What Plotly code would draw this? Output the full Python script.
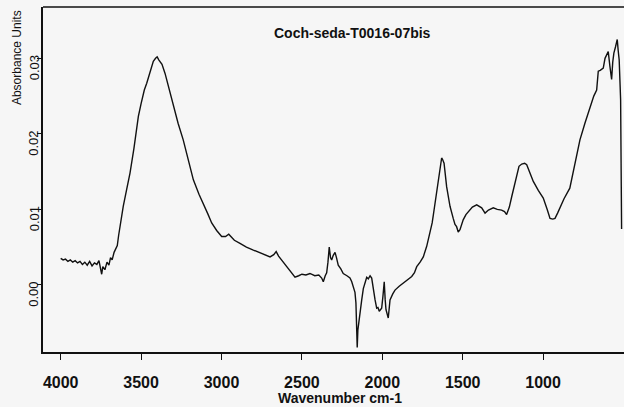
import plotly.graph_objects as go

wavenumber = [4000, 3985, 3970, 3955, 3940, 3925, 3910, 3895, 3880, 3865, 3850, 3835, 3820, 3805, 3790, 3775,
              3762, 3752, 3745, 3738, 3725, 3712, 3700, 3690, 3680, 3668, 3655, 3648, 3640, 3630, 3611, 3590,
              3569, 3545, 3530, 3517, 3500, 3480, 3465, 3445, 3424, 3410, 3400, 3390, 3370, 3351, 3325, 3300,
              3270, 3238, 3205, 3175, 3140, 3113, 3085, 3061, 3030, 2999, 2975, 2955, 2945, 2920, 2885, 2845,
              2802, 2760, 2720, 2698, 2675, 2660, 2645, 2620, 2595, 2565, 2543, 2520, 2500, 2475, 2450, 2420,
              2395, 2377, 2367, 2355, 2346, 2338, 2330, 2322, 2315, 2305, 2294, 2285, 2274, 2258, 2243, 2220,
              2201, 2190, 2180, 2170, 2164, 2159, 2156, 2152, 2143, 2128, 2118, 2108, 2097, 2087, 2076, 2066,
              2056, 2045, 2035, 2027, 2019, 2004, 1996, 1988, 1982, 1977, 1963, 1952, 1935, 1921, 1895, 1870,
              1845, 1817, 1800, 1786, 1765, 1745, 1724, 1714, 1704, 1690, 1683, 1662, 1641, 1631, 1625, 1616,
              1600, 1590, 1579, 1559, 1548, 1538, 1528, 1517, 1507, 1497, 1480, 1465, 1440, 1413, 1395, 1382,
              1361, 1340, 1310, 1285, 1258, 1240, 1227, 1210, 1195, 1176, 1164, 1150, 1133, 1115, 1102, 1085,
              1061, 1030, 999, 975, 957, 940, 926, 910, 895, 870, 834, 800, 771, 740, 709, 685,
              667, 660, 657, 645, 626, 615, 605, 595, 585, 574, 567, 560, 550, 539, 533, 527,
              518, 512]

absorbance = [0.0035, 0.0033, 0.0034, 0.0031, 0.0033, 0.0030, 0.0032, 0.0029, 0.0031, 0.0027, 0.0030, 0.0026,
              0.0031, 0.0025, 0.0029, 0.0027, 0.0032, 0.0020, 0.0014, 0.0024, 0.0020, 0.0030, 0.0026, 0.0036,
              0.0033, 0.0043, 0.0048, 0.0052, 0.0065, 0.0080, 0.0104, 0.0126, 0.0148, 0.0180, 0.0205, 0.0223,
              0.0240, 0.0258, 0.0267, 0.0283, 0.0296, 0.0300, 0.0302, 0.0298, 0.0292, 0.0280, 0.0258, 0.0236,
              0.0214, 0.0192, 0.0165, 0.0139, 0.0120, 0.0108, 0.0094, 0.0082, 0.0072, 0.0064, 0.0064, 0.0067,
              0.0065, 0.0059, 0.0055, 0.0050, 0.0046, 0.0042, 0.0039, 0.0037, 0.0040, 0.0044, 0.0038, 0.0031,
              0.0024, 0.0016, 0.0010, 0.0012, 0.0014, 0.0013, 0.0015, 0.0012, 0.0013, 0.0009, 0.0004, 0.0012,
              0.0016, 0.0030, 0.0050, 0.0036, 0.0033, 0.0039, 0.0043, 0.0036, 0.0026, 0.0021, 0.0015, 0.0012,
              0.0009, 0.0004, -0.0002, -0.0010, -0.0024, -0.0060, -0.0083, -0.0060, -0.0042, -0.0020, -0.0005,
              0.0004, 0.0010, 0.0008, 0.0012, 0.0009, -0.0007, -0.0020, -0.0031, -0.0030, -0.0035, -0.0031,
              -0.0015, 0.0004, -0.0020, -0.0033, -0.0044, -0.0020, -0.0012, -0.0007, -0.0002, 0.0002, 0.0006,
              0.0011, 0.0016, 0.0024, 0.0030, 0.0037, 0.0051, 0.0060, 0.0068, 0.0082, 0.0092, 0.0124, 0.0152,
              0.0168, 0.0166, 0.0161, 0.0130, 0.0115, 0.0104, 0.0088, 0.0080, 0.0077, 0.0070, 0.0073, 0.0080,
              0.0086, 0.0093, 0.0097, 0.0103, 0.0106, 0.0104, 0.0102, 0.0095, 0.0099, 0.0102, 0.0100, 0.0099,
              0.0097, 0.0093, 0.0103, 0.0117, 0.0135, 0.0148, 0.0157, 0.0160, 0.0161, 0.0159, 0.0150, 0.0137,
              0.0125, 0.0115, 0.0100, 0.0088, 0.0087, 0.0088, 0.0095, 0.0103, 0.0114, 0.0128, 0.0163, 0.0192,
              0.0214, 0.0236, 0.0250, 0.0258, 0.0270, 0.0283, 0.0284, 0.0287, 0.0300, 0.0305, 0.0309, 0.0290,
              0.0272, 0.0295, 0.0307, 0.0315, 0.0325, 0.0310, 0.0298, 0.0245, 0.0074]

x_ticks = [4000, 3500, 3000, 2500, 2000, 1500, 1000]
x_tick_labels = ["4000", "3500", "3000", "2500", "2000", "1500", "1000"]
y_ticks = [0.00, 0.01, 0.02, 0.03]
y_tick_labels = ["0.00", "0.01", "0.02", "0.03"]

title_text = "Coch-seda-T0016-07bis"
x_title = "Wavenumber cm-1"
y_title = "Absorbance Units"

FONT = "Liberation Sans, Arial, sans-serif"

fig = go.Figure()
fig.add_trace(go.Scatter(x=wavenumber, y=absorbance, mode="lines",
                         line=dict(color="#111111", width=1.4), showlegend=False))

annotations = []
for v, t in zip(y_ticks, y_tick_labels):
    annotations.append(dict(x=0, xref="paper", y=v, yref="y", text=t, showarrow=False,
                            textangle=-90, xanchor="center", yanchor="middle", xshift=-9, yshift=-10,
                            font=dict(family=FONT, size=13, color="#111111")))
annotations.append(dict(x=0, xref="paper", y=0.852, yref="paper", text=y_title, showarrow=False,
                        textangle=-90, xanchor="center", yanchor="middle", xshift=-26,
                        font=dict(family=FONT, size=12, color="#111111")))
annotations.append(dict(x=2188, xref="x", y=0.925, yref="paper", text="<b>" + title_text + "</b>",
                        showarrow=False, xanchor="center", yanchor="middle",
                        font=dict(family=FONT, size=14, color="#111111")))
annotations.append(dict(x=2263, xref="x", y=0, yref="paper", text="<b>" + x_title + "</b>",
                        showarrow=False, xanchor="center", yanchor="top", yshift=-36,
                        font=dict(family=FONT, size=14, color="#111111")))

fig.update_layout(
    width=624, height=407,
    margin=dict(l=43, r=0, t=7, b=55, autoexpand=False),
    paper_bgcolor="#f6f6f6", plot_bgcolor="#f6f6f6",
    xaxis=dict(range=[4110, 497], tickvals=x_ticks, ticktext=["<b>%s</b>" % t for t in x_tick_labels],
               automargin=False,
               showgrid=False, zeroline=False, showline=True, linecolor="#111111", linewidth=1.5,
               mirror=False, ticks="outside", ticklen=6, tickwidth=1.3, tickcolor="#111111",
               ticklabelstandoff=9, tickfont=dict(family=FONT, size=16, color="#111111")),
    yaxis=dict(range=[-0.0089, 0.0368], tickvals=y_ticks, showticklabels=False, automargin=False,
               showgrid=False, zeroline=False, showline=True, linecolor="#111111", linewidth=1.5,
               mirror=False, ticks="outside", ticklen=4, tickwidth=1.3, tickcolor="#111111"),
    annotations=annotations,
    shapes=[dict(type="line", xref="paper", yref="paper", x0=0, x1=1, y0=1, y1=1,
                 line=dict(color="#111111", width=1.6))],
)

fig.write_html("out.html", config={"displayModeBar": False},
               post_script="document.body.style.margin='0';document.body.style.background='#f6f6f6';")
